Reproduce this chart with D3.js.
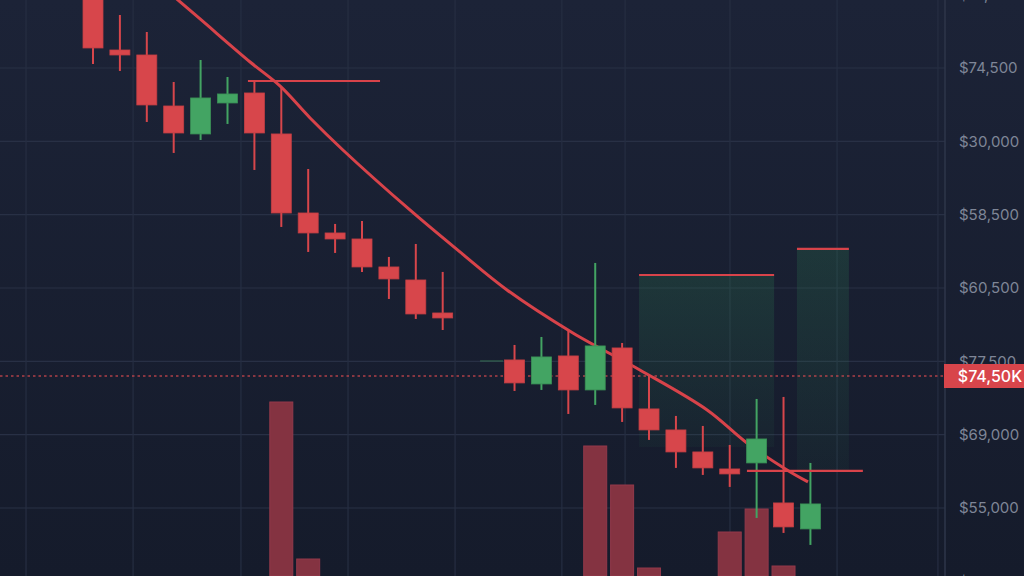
<!DOCTYPE html>
<html><head><meta charset="utf-8">
<script src="https://cdn.jsdelivr.net/npm/d3@7"></script>
<style>html,body{margin:0;padding:0;background:#171d2e;overflow:hidden}</style>
</head><body><svg id="c" width="1024" height="576"></svg>
<script>
// ---- data ----
const candleT = [0,1,2,3,4,5,6,7,8,9,10,11,12,13,
  15.67,16.67,17.67,18.67,19.67,20.67,21.67,22.67,23.67,24.67,25.67,26.67];
const opens  = [85400,83491,83355,81964,81201,82046,82319,81201,79046,78501,78337,77574,77219,76319,
  75038,74383,75147,74220,75365,73702,73129,72529,72065,72229,71138,70429];
const highs  = [85673,84446,83982,82619,83219,82755,82619,82455,80246,78747,78828,77847,78201,77438,
  75447,75665,75855,77683,75501,74629,73511,73238,72720,73974,74029,72229];
const lows   = [83110,82919,81528,80683,81037,81474,80219,78665,77983,77956,77438,76701,76156,75855,
  74192,74220,73565,73811,73347,72856,72093,71902,71575,70729,70320,69993];
const closes = [83546,83355,81992,81228,82183,82292,81228,79046,78501,78337,77574,77247,76292,76183,
  74411,75120,74220,75420,73729,73129,72529,72093,71929,72883,70484,71111];
const volumes = [0,0,0,0,0,0,0,1740,170,0,0,0,0,0,
  0,0,0,1300,910,80,0,0,440,670,100,0];

const maT = [2.68,3.98,5.84,6.95,8.07,9.29,11.78,13.64,15.39,17.84,20.33,22.83,24.31,25.80,26.58];
const maP = [85155,84337,83164,82510,81637,80764,79128,77983,76947,75774,74765,73674,72774,72038,71711];

// level lines: [t0, t1, price]
const levelT0 = [5.76, 20.30, 26.17, 24.31];
const levelT1 = [10.67, 25.32, 28.10, 28.62];
const levelP  = [82646, 77355, 78065, 72011];

// green zones
const zoneT0 = [20.30, 26.17];
const zoneT1 = [25.32, 28.10];
const zoneTop = [77355, 78065];
const zoneBottom = [72665, 72038];

const tickPrices = [85000,83000,81000,79000,77000,75000,73000,71000,69000];
const tickLabels = ["$77,000","$74,500","$30,000","$58,500","$60,500","$77,500","$69,000","$55,000","$46,000"];
const gridT = [-2.49,1.49,5.5,9.48,13.46,17.43,19.78,23.68,27.66,31.41];
const lastPrice = 74600;
const lastLabel = "$74,50K";

// ---- drawing ----
const W = 1024, H = 576, axisX = 945;
const svg = d3.select("#c");
const x = d3.scaleLinear().domain([-93/26.9, (W-93)/26.9]).range([0, W]);
const y = d3.scaleLinear().domain([69145.5, 84854.5]).range([H, 0]);
const yv = d3.scaleLinear().domain([0, 2000]).range([H, H-200]);

const defs = svg.append("defs");
const bg = defs.append("linearGradient").attr("id","bg").attr("x1",0).attr("y1",0).attr("x2",0).attr("y2",1);
bg.append("stop").attr("offset","0%").attr("stop-color","#1c2337");
bg.append("stop").attr("offset","100%").attr("stop-color","#151b2b");
const zg = defs.append("linearGradient").attr("id","zg").attr("x1",0).attr("y1",0).attr("x2",0).attr("y2",1);
zg.append("stop").attr("offset","0%").attr("stop-color","#2f8a55").attr("stop-opacity",0.22);
zg.append("stop").attr("offset","100%").attr("stop-color","#2f8a55").attr("stop-opacity",0.06);

svg.append("rect").attr("width",W).attr("height",H).attr("fill","url(#bg)");

// grid
const g = svg.append("g");
g.selectAll("line.h").data(tickPrices).join("line")
  .attr("x1",0).attr("x2",axisX).attr("y1",d=>y(d)).attr("y2",d=>y(d))
  .attr("stroke","#283045").attr("stroke-width",1.2);
g.selectAll("line.v").data(gridT).join("line")
  .attr("x1",d=>x(d)).attr("x2",d=>x(d)).attr("y1",0).attr("y2",H)
  .attr("stroke","#262e42").attr("stroke-width",1.2);

// zones
svg.append("g").selectAll("rect").data(zoneT0).join("rect")
  .attr("x",(d,i)=>x(d)).attr("width",(d,i)=>x(zoneT1[i])-x(d))
  .attr("y",(d,i)=>y(zoneTop[i])).attr("height",(d,i)=>y(zoneBottom[i])-y(zoneTop[i]))
  .attr("fill","url(#zg)");

// volume
const idx = d3.range(candleT.length);
svg.append("g").selectAll("rect").data(idx.filter(i=>volumes[i]>0)).join("rect")
  .attr("x",i=>x(candleT[i])-11.5).attr("width",23)
  .attr("y",i=>yv(volumes[i])).attr("height",i=>H-yv(volumes[i]))
  .attr("fill","#843341").attr("stroke","#93394a").attr("stroke-width",1);

// last price dotted line
svg.append("line").attr("x1",0).attr("x2",axisX).attr("y1",y(lastPrice)).attr("y2",y(lastPrice))
  .attr("stroke","#c9474e").attr("stroke-width",1.6).attr("stroke-dasharray","2.5,3").attr("opacity",0.85);

// faint segment
svg.append("line").attr("x1",x(14.39)).attr("x2",x(15.24)).attr("y1",y(75010)).attr("y2",y(75010))
  .attr("stroke","#3c8a5a").attr("stroke-width",1.2).attr("opacity",0.6);

// moving average
svg.append("path").datum(d3.range(maT.length))
  .attr("d", d3.line().x(i=>x(maT[i])).y(i=>y(maP[i])).curve(d3.curveCatmullRom.alpha(0.5)))
  .attr("fill","none").attr("stroke","#d8434a").attr("stroke-width",3);

// candles
const red = "#d7464b", green = "#43a463";
const cg = svg.append("g").selectAll("g").data(idx).join("g");
cg.append("line")
  .attr("x1",i=>x(candleT[i])).attr("x2",i=>x(candleT[i]))
  .attr("y1",i=>y(highs[i])).attr("y2",i=>y(lows[i]))
  .attr("stroke",i=>closes[i]>=opens[i]?green:red).attr("stroke-width",2);
cg.append("rect")
  .attr("x",i=>x(candleT[i])-10).attr("width",20)
  .attr("y",i=>y(Math.max(opens[i],closes[i])))
  .attr("height",i=>Math.max(3,Math.abs(y(opens[i])-y(closes[i]))))
  .attr("fill",i=>closes[i]>=opens[i]?green:red)
  .attr("stroke",i=>closes[i]>=opens[i]?"#3a8f56":"#c23f44").attr("stroke-width",0.8);

// level lines
svg.append("g").selectAll("line").data(levelT0).join("line")
  .attr("x1",d=>x(d)).attr("x2",(d,i)=>x(levelT1[i]))
  .attr("y1",(d,i)=>y(levelP[i])).attr("y2",(d,i)=>y(levelP[i]))
  .attr("stroke","#d8434a").attr("stroke-width",2.2);

// axis separator
svg.append("line").attr("x1",axisX).attr("x2",axisX).attr("y1",0).attr("y2",H)
  .attr("stroke","#2e364a").attr("stroke-width",1.5);

// right axis
const ax = svg.append("g").attr("transform",`translate(${axisX},0)`)
  .call(d3.axisRight(y).tickValues(tickPrices).tickSize(0).tickPadding(14)
    .tickFormat((d,i)=>tickLabels[i]));
ax.select(".domain").remove();
ax.selectAll("text").attr("fill","#7f8697").style("font-family","Inter, Roboto, sans-serif").style("font-size","15px");

// last price label
svg.append("rect").attr("x",axisX-1).attr("y",y(lastPrice)-12).attr("width",W-axisX+1).attr("height",24)
  .attr("fill","#d8454b");
svg.append("text").attr("x",990).attr("y",y(lastPrice)).attr("dy","0.36em").attr("text-anchor","middle")
  .attr("fill","#ffffff").style("font-family","Inter, Roboto, sans-serif").style("font-size","16px").style("font-weight",500)
  .text(lastLabel);
</script></body></html>
